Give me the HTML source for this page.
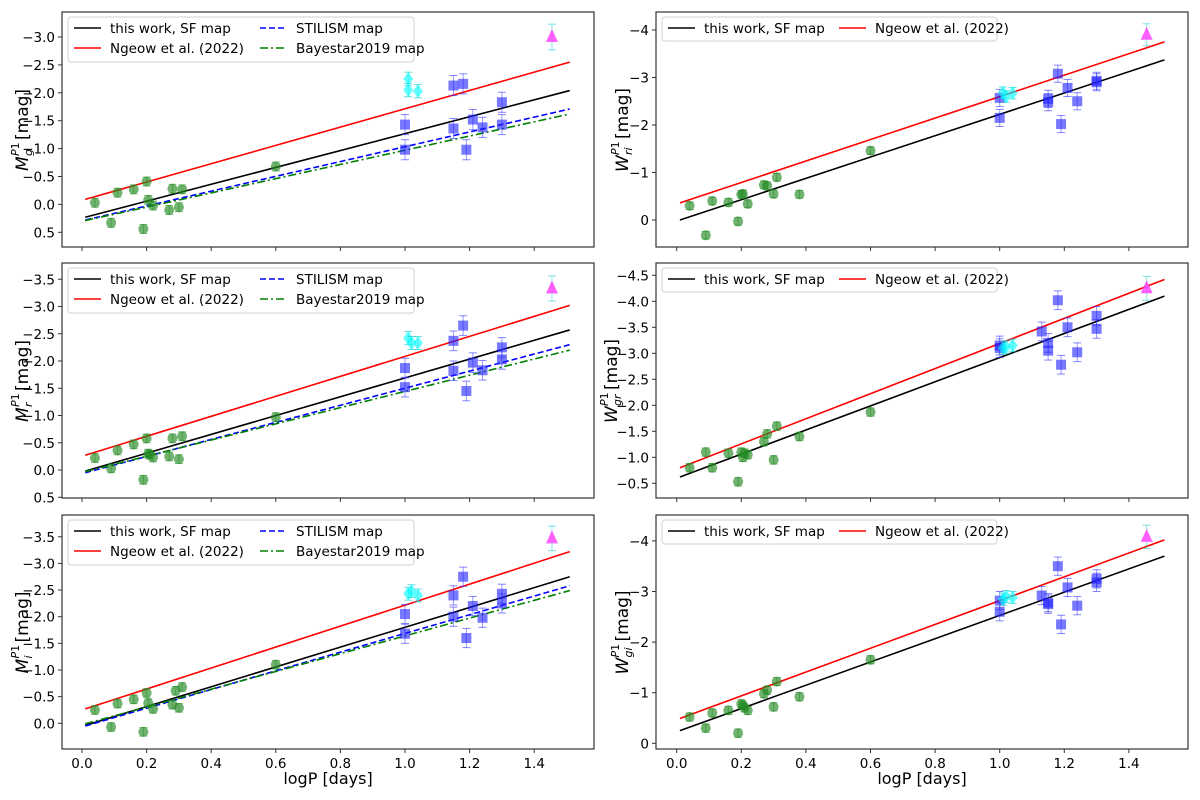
<!DOCTYPE html>
<html><head><meta charset="utf-8"><style>
html,body{margin:0;padding:0;background:#fff;}
svg{display:block;font-family:"DejaVu Sans","Liberation Sans",sans-serif;}
</style></head><body>
<svg id="fig" width="1200" height="800" viewBox="0 0 1200 800"></svg>
<script>
// ---------- data ----------
const xTicks = [0.0,0.2,0.4,0.6,0.8,1.0,1.2,1.4];
const lineX = [0.01, 1.51];

// Panel L1 : M_g
const g_greenP = [0.04,0.09,0.11,0.16,0.19,0.20,0.205,0.22,0.27,0.28,0.30,0.31,0.60];
const g_greenV = [-0.03,0.33,-0.21,-0.27,0.44,-0.41,-0.08,0.02,0.1,-0.28,0.05,-0.27,-0.68];
const g_blueP = [1.00,1.00,1.15,1.15,1.18,1.19,1.21,1.24,1.30,1.30];
const g_blueV = [-1.43,-0.98,-2.13,-1.36,-2.16,-0.98,-1.52,-1.38,-1.83,-1.43];
const g_cyanP = [1.01,1.01,1.04];
const g_cyanV = [-2.25,-2.05,-2.03];
const g_triV = [-3.0];
const g_sf = [0.23,-2.04], g_ng = [-0.09,-2.55], g_st = [0.28,-1.71], g_bs = [0.29,-1.62];

// Panel L2 : M_r
const r_greenP = [0.04,0.09,0.11,0.16,0.19,0.20,0.205,0.21,0.22,0.27,0.28,0.30,0.31,0.60];
const r_greenV = [-0.22,-0.03,-0.36,-0.47,0.18,-0.58,-0.3,-0.28,-0.23,-0.25,-0.58,-0.2,-0.62,-0.97];
const r_blueP = [1.00,1.00,1.15,1.15,1.18,1.19,1.21,1.24,1.30,1.30];
const r_blueV = [-1.87,-1.52,-2.37,-1.82,-2.65,-1.45,-1.97,-1.83,-2.25,-2.03];
const r_cyanP = [1.01,1.02,1.04];
const r_cyanV = [-2.42,-2.33,-2.33];
const r_triV = [-3.33];
const r_sf = [0.02,-2.57], r_ng = [-0.27,-3.02], r_st = [0.05,-2.3], r_bs = [0.03,-2.2];

// Panel L3 : M_i
const i_greenP = [0.04,0.09,0.11,0.16,0.19,0.20,0.205,0.22,0.28,0.29,0.30,0.31,0.60];
const i_greenV = [-0.25,0.07,-0.37,-0.45,0.16,-0.57,-0.38,-0.27,-0.35,-0.61,-0.29,-0.68,-1.1];
const i_blueP = [1.00,1.00,1.15,1.15,1.18,1.19,1.21,1.24,1.30,1.30];
const i_blueV = [-2.05,-1.68,-2.4,-2.0,-2.75,-1.6,-2.2,-1.98,-2.43,-2.25];
const i_cyanP = [1.01,1.02,1.04];
const i_cyanV = [-2.43,-2.48,-2.4];
const i_triV = [-3.47];
const i_sf = [0.04,-2.75], i_ng = [-0.27,-3.22], i_st = [0.05,-2.58], i_bs = [0.01,-2.49];

// Panel R1 : W_ri
const wri_greenP = [0.04,0.09,0.11,0.16,0.19,0.20,0.205,0.22,0.27,0.28,0.30,0.31,0.38,0.60];
const wri_greenV = [-0.3,0.32,-0.4,-0.37,0.03,-0.54,-0.55,-0.34,-0.74,-0.72,-0.55,-0.9,-0.54,-1.46];
const wri_blueP = [1.00,1.00,1.15,1.15,1.18,1.19,1.21,1.24,1.30,1.30];
const wri_blueV = [-2.57,-2.15,-2.55,-2.48,-3.08,-2.02,-2.78,-2.5,-2.93,-2.9];
const wri_cyanP = [1.01,1.02,1.04];
const wri_cyanV = [-2.68,-2.6,-2.67];
const wri_triV = [-3.9];
const wri_sf = [0.0,-3.37], wri_ng = [-0.36,-3.75];

// Panel R2 : W_gr
const wgr_greenP = [0.04,0.09,0.11,0.16,0.19,0.20,0.205,0.21,0.22,0.27,0.28,0.30,0.31,0.38,0.60];
const wgr_greenV = [-0.8,-1.1,-0.8,-1.08,-0.53,-1.1,-1.0,-1.08,-1.05,-1.3,-1.45,-0.95,-1.6,-1.4,-1.87];
const wgr_blueP = [1.00,1.00,1.13,1.15,1.15,1.18,1.19,1.21,1.24,1.30,1.30];
const wgr_blueV = [-3.15,-3.1,-3.42,-3.2,-3.05,-4.02,-2.78,-3.5,-3.02,-3.72,-3.47];
const wgr_cyanP = [1.01,1.02,1.04];
const wgr_cyanV = [-3.1,-3.12,-3.15];
const wgr_triV = [-4.25];
const wgr_sf = [-0.62,-4.1], wgr_ng = [-0.8,-4.42];

// Panel R3 : W_gi
const wgi_greenP = [0.04,0.09,0.11,0.16,0.19,0.20,0.205,0.21,0.22,0.27,0.28,0.30,0.31,0.38,0.60];
const wgi_greenV = [-0.52,-0.3,-0.6,-0.65,-0.2,-0.78,-0.75,-0.7,-0.65,-0.98,-1.05,-0.72,-1.22,-0.92,-1.65];
const wgi_blueP = [1.00,1.00,1.13,1.15,1.15,1.18,1.19,1.21,1.24,1.30,1.30];
const wgi_blueV = [-2.82,-2.6,-2.92,-2.78,-2.75,-3.5,-2.35,-3.08,-2.72,-3.25,-3.18];
const wgi_cyanP = [1.01,1.02,1.04];
const wgi_cyanV = [-2.85,-2.9,-2.88];
const wgi_triV = [-4.08];
const wgi_sf = [-0.25,-3.70], wgi_ng = [-0.49,-4.02];

const triP = 1.455;

// ---------- drawing ----------
const NS = "http://www.w3.org/2000/svg";
const svg = document.getElementById('fig');
function mk(tag, attrs, parent){
  const e = document.createElementNS(NS, tag);
  for (const k in attrs) e.setAttribute(k, attrs[k]);
  (parent||svg).appendChild(e);
  return e;
}
function fmt(v, dec){ const s = Math.abs(v).toFixed(dec); return (v<0?'\u2212':'')+s; }

const panels = [
  {id:'mg', left:62, right:594, top:12, bottom:247, x0:82, y0:204.4, yk:55.8, yticks:[-3.0,-2.5,-2.0,-1.5,-1.0,-0.5,0.0,0.5], dec:1, sym:'M', sub:'g',
   gp:g_greenP, gv:g_greenV, bp:g_blueP, bv:g_blueV, cp:g_cyanP, cv:g_cyanV, tv:g_triV, sf:g_sf, ng:g_ng, st:g_st, bs:g_bs, xl:false, lab:22},
  {id:'mr', left:62, right:594, top:263, bottom:498, x0:82, y0:470, yk:54.5, yticks:[-3.5,-3.0,-2.5,-2.0,-1.5,-1.0,-0.5,0.0,0.5], dec:1, sym:'M', sub:'r',
   gp:r_greenP, gv:r_greenV, bp:r_blueP, bv:r_blueV, cp:r_cyanP, cv:r_cyanV, tv:r_triV, sf:r_sf, ng:r_ng, st:r_st, bs:r_bs, xl:false, lab:22},
  {id:'mi', left:62, right:594, top:515, bottom:749, x0:82, y0:723.3, yk:53.3, yticks:[-3.5,-3.0,-2.5,-2.0,-1.5,-1.0,-0.5,0.0], dec:1, sym:'M', sub:'i',
   gp:i_greenP, gv:i_greenV, bp:i_blueP, bv:i_blueV, cp:i_cyanP, cv:i_cyanV, tv:i_triV, sf:i_sf, ng:i_ng, st:i_st, bs:i_bs, xl:true, lab:22},
  {id:'wri', left:656, right:1188, top:12, bottom:247, x0:676.7, y0:220, yk:47.5, yticks:[-4,-3,-2,-1,0], dec:0, sym:'W', sub:'ri',
   gp:wri_greenP, gv:wri_greenV, bp:wri_blueP, bv:wri_blueV, cp:wri_cyanP, cv:wri_cyanV, tv:wri_triV, sf:wri_sf, ng:wri_ng, xl:false, lab:622},
  {id:'wgr', left:656, right:1188, top:263, bottom:498, x0:676.7, y0:509.3, yk:52, yticks:[-4.5,-4.0,-3.5,-3.0,-2.5,-2.0,-1.5,-1.0,-0.5], dec:1, sym:'W', sub:'gr',
   gp:wgr_greenP, gv:wgr_greenV, bp:wgr_blueP, bv:wgr_blueV, cp:wgr_cyanP, cv:wgr_cyanV, tv:wgr_triV, sf:wgr_sf, ng:wgr_ng, xl:false, lab:611},
  {id:'wgi', left:656, right:1188, top:515, bottom:749, x0:676.7, y0:743.3, yk:50.6, yticks:[-4,-3,-2,-1,0], dec:0, sym:'W', sub:'gi',
   gp:wgi_greenP, gv:wgi_greenV, bp:wgi_blueP, bv:wgi_blueV, cp:wgi_cyanP, cv:wgi_cyanV, tv:wgi_triV, sf:wgi_sf, ng:wgi_ng, xl:true, lab:622}
];
const XK = 323;

panels.forEach(p => {
  const X = v => p.x0 + XK*v;
  const Y = v => p.y0 + p.yk*v;
  const g = mk('g', {});
  
  
  mk('rect', {x:p.left, y:p.top, width:p.right-p.left, height:p.bottom-p.top, fill:'#fff'}, g);

  const lines = [[p.sf,'#000',''],[p.ng,'#ff0000',''],[p.st,'#0000ff','6,3'],[p.bs,'#008000','8,3,2,3']];
  lines.forEach((L,k) => {
    if (!L[0]) return;
    const ln = mk('line', {x1:X(lineX[0]), y1:Y(L[0][0]), x2:X(lineX[1]), y2:Y(L[0][1]), stroke:L[1], 'stroke-width':1.6, 'stroke-dasharray':L[2]}, g);
    
    
  });

  function ebar(x, y, e, col){
    mk('line', {x1:x, y1:Y(y-e), x2:x, y2:Y(y+e), stroke:col, 'stroke-width':1, opacity:0.5}, g);
    mk('line', {x1:x-4, y1:Y(y-e), x2:x+4, y2:Y(y-e), stroke:col, 'stroke-width':1, opacity:0.6}, g);
    mk('line', {x1:x-4, y1:Y(y+e), x2:x+4, y2:Y(y+e), stroke:col, 'stroke-width':1, opacity:0.6}, g);
  }
  p.gp.forEach((lp,k) => {
    const x = X(lp), y = p.gv[k];
    ebar(x, y, 0.08, '#2e8b2e');
    const c = mk('circle', {cx:x, cy:Y(y), r:5, fill:'#228b22', opacity:0.65}, g);
    
    
  });
  p.bp.forEach((lp,k) => {
    const x = X(lp), y = p.bv[k];
    ebar(x, y, 0.18, '#3333ff');
    const s = mk('rect', {x:x-5, y:Y(y)-5, width:10, height:10, fill:'#1f1fff', opacity:0.6}, g);
    
    
  });
  p.cp.forEach((lp,k) => {
    const x = X(lp), y = Y(p.cv[k]);
    ebar(x, p.cv[k], 0.12, '#00cccc');
    const d = mk('polygon', {points:`${x},${y-7} ${x+5},${y} ${x},${y+7} ${x-5},${y}`, fill:'#00ffff', opacity:0.6}, g);
    
    
  });
  p.tv.forEach(v => {
    const x = X(triP), y = Y(v);
    ebar(x, v, 0.23, '#22cccc');
    const t = mk('polygon', {points:`${x},${y-8} ${x+6},${y+5} ${x-6},${y+5}`, fill:'#ff44ff', opacity:0.85}, g);
    
    
  });

  mk('rect', {x:p.left, y:p.top, width:p.right-p.left, height:p.bottom-p.top, fill:'none', stroke:'#333', 'stroke-width':1.2}, g);

  p.yticks.forEach(v => {
    const y = Y(v);
    mk('line', {x1:p.left-4, y1:y, x2:p.left, y2:y, stroke:'#333'}, g);
    const t = mk('text', {x:p.left-7, y:y+5, 'text-anchor':'end', 'font-size':13.5, fill:'#000'}, g);
    t.textContent = fmt(v, p.dec);
    
    
  });
  xTicks.forEach(v => {
    const x = X(v);
    mk('line', {x1:x, y1:p.bottom, x2:x, y2:p.bottom+4, stroke:'#333'}, g);
    if (p.xl) {
      const t = mk('text', {x:x, y:p.bottom+19, 'text-anchor':'middle', 'font-size':13.5, fill:'#000'}, g);
      t.textContent = v.toFixed(1);
      
      
    }
  });
  if (p.xl) {
    const t = mk('text', {x:(p.left+p.right)/2, y:p.bottom+35, 'text-anchor':'middle', 'font-size':16, fill:'#000'}, g);
    t.textContent = 'logP [days]';
    
    
  }
  // y label (rotated group with separate pieces)
  const cy = (p.top+p.bottom)/2;
  const yg = mk('g', {transform:`translate(${p.lab},${cy}) rotate(-90)`}, g);
  
  
  const symW = p.sym === 'M' ? 15 : 17;
  const subW = Math.max(p.sub.length*7, 14);
  const total = symW + subW + 2 + 52;
  const sx = -total/2;
  const t1 = mk('text', {x:sx, y:6, 'font-size':17, 'font-style':'italic', fill:'#000'}, yg);
  t1.textContent = p.sym;
  const t2 = mk('text', {x:sx+symW, y:10, 'font-size':11, 'font-style':'italic', fill:'#000'}, yg);
  t2.textContent = p.sub;
  const t3 = mk('text', {x:sx+symW, y:-3, 'font-size':11, fill:'#000'}, yg);
  t3.innerHTML = '<tspan font-style="italic">P</tspan>1';
  const t4 = mk('text', {x:sx+symW+subW+2, y:6, 'font-size':17, fill:'#000'}, yg);
  t4.textContent = ' [mag]';

  // legend
  const lg = mk('g', {}, g);
  
  
  const full = p.sym === 'M';
  const lx = p.left + 6;
  const lw = full ? 346 : 335;
  const lh = full ? 45 : 24;
  mk('rect', {x:lx, y:p.top+5, width:lw, height:lh, rx:3, fill:'#fff', stroke:'#ccc', opacity:0.9}, lg);
  const entries = full
    ? [['this work, SF map','#000','',0,0],['Ngeow et al. (2022)','#ff0000','',0,1],['STILISM map','#0000ff','6,3',1,0],['Bayestar2019 map','#008000','8,3,2,3',1,1]]
    : [['this work, SF map','#000','',0,0],['Ngeow et al. (2022)','#ff0000','',1,0]];
  entries.forEach(e => {
    const ex = lx + 6 + e[3]*(full ? 186 : 171);
    const ey = p.top + 16 + e[4]*20;
    mk('line', {x1:ex, y1:ey, x2:ex+27, y2:ey, stroke:e[1], 'stroke-width':1.6, 'stroke-dasharray':e[2]}, lg);
    const t = mk('text', {x:ex+36, y:ey+5, 'font-size':13.5, fill:'#000'}, lg);
    t.textContent = e[0];
    
    
  });
});
</script>
</body></html>
